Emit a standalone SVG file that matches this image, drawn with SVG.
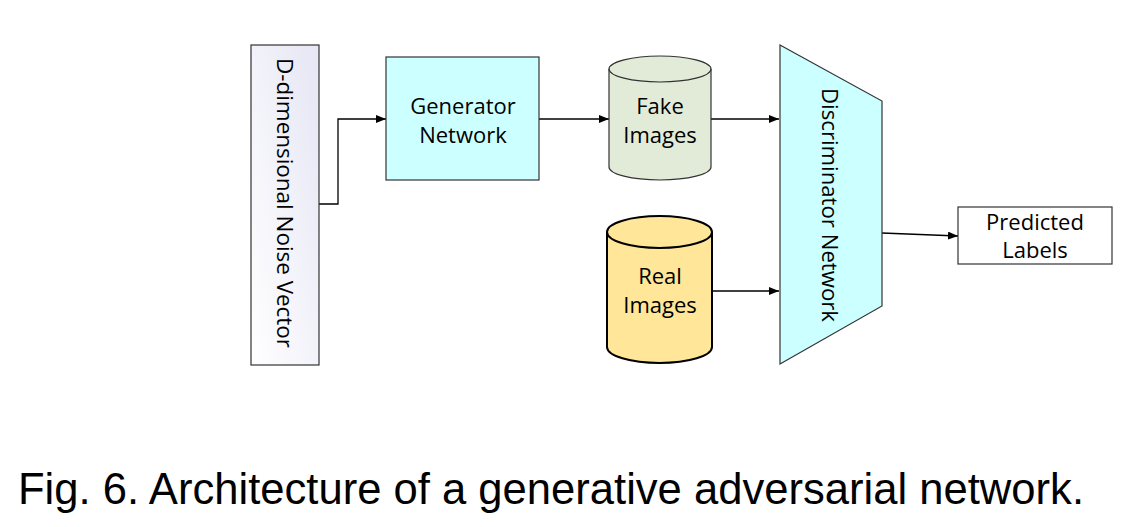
<svg xmlns="http://www.w3.org/2000/svg" width="1128" height="527" viewBox="0 0 1128 527">
<defs>
<linearGradient id="noiseGrad" x1="0" y1="1" x2="1" y2="0">
<stop offset="0" stop-color="#ffffff"/>
<stop offset="1" stop-color="#e6e6f5"/>
</linearGradient>
<marker id="arr" markerWidth="10" markerHeight="8" refX="10" refY="4" orient="auto" markerUnits="userSpaceOnUse">
<path d="M0,0 L10,4 L0,8 Z" fill="#000"/>
</marker>
<style>
.lbl{font-family:"Open Sans","Liberation Sans",sans-serif;font-size:22px;fill:#000;text-anchor:middle}
.box{stroke:#333;stroke-width:1.2}
.conn{fill:none;stroke:#000;stroke-width:1.3;marker-end:url(#arr)}
.cap{font-family:"Liberation Sans",Arial,sans-serif;font-size:44px;fill:#000}
</style>
</defs>
<rect width="1128" height="527" fill="#fff"/>
<g id="connectors">
<path class="conn" d="M319,204 H338 V119 H386"/>
<path class="conn" d="M539,119 H609"/>
<path class="conn" d="M711,119 H779"/>
<path class="conn" d="M712,291 H779"/>
<path class="conn" d="M882,233 L958,236"/>
</g>
<g id="noise">
<rect class="box" x="251" y="45" width="68" height="320" fill="url(#noiseGrad)"/>
<text class="lbl" transform="translate(285,203) rotate(90)" x="0" y="8" textLength="290" lengthAdjust="spacingAndGlyphs">D-dimensional Noise Vector</text>
</g>
<g id="generator">
<rect class="box" x="386" y="57" width="153" height="123" fill="#ccffff"/>
<text class="lbl" x="463" y="114">Generator</text>
<text class="lbl" x="463" y="143">Network</text>
</g>
<g id="fake">
<path d="M609,69 A51,13 0 0 1 711,69 L711,167 A51,13 0 0 1 609,167 Z" fill="#e2ebd8" stroke="#333" stroke-width="1.2"/>
<path d="M609,69 A51,13 0 0 0 711,69" fill="none" stroke="#333" stroke-width="1.2"/>
<text class="lbl" x="660" y="114">Fake</text>
<text class="lbl" x="660" y="143">Images</text>
</g>
<g id="real">
<path d="M607,232 A52.5,16 0 0 1 712,232 L712,347 A52.5,16 0 0 1 607,347 Z" fill="#ffe699" stroke="#000" stroke-width="2"/>
<path d="M607,232 A52.5,16 0 0 0 712,232" fill="none" stroke="#000" stroke-width="2"/>
<text class="lbl" x="660" y="284">Real</text>
<text class="lbl" x="660" y="313">Images</text>
</g>
<g id="discriminator">
<polygon class="box" points="780,45 882,101 882,306 780,364" fill="#ccffff"/>
<text class="lbl" transform="translate(830,205) rotate(90)" x="0" y="8" textLength="234" lengthAdjust="spacingAndGlyphs">Discriminator Network</text>
</g>
<g id="predicted">
<rect class="box" x="958" y="207" width="154" height="57" fill="#fff"/>
<text class="lbl" x="1035" y="230">Predicted</text>
<text class="lbl" x="1035" y="258">Labels</text>
</g>
<text class="cap" x="18" y="504" textLength="1066" lengthAdjust="spacingAndGlyphs">Fig. 6. Architecture of a generative adversarial network.</text>
</svg>
